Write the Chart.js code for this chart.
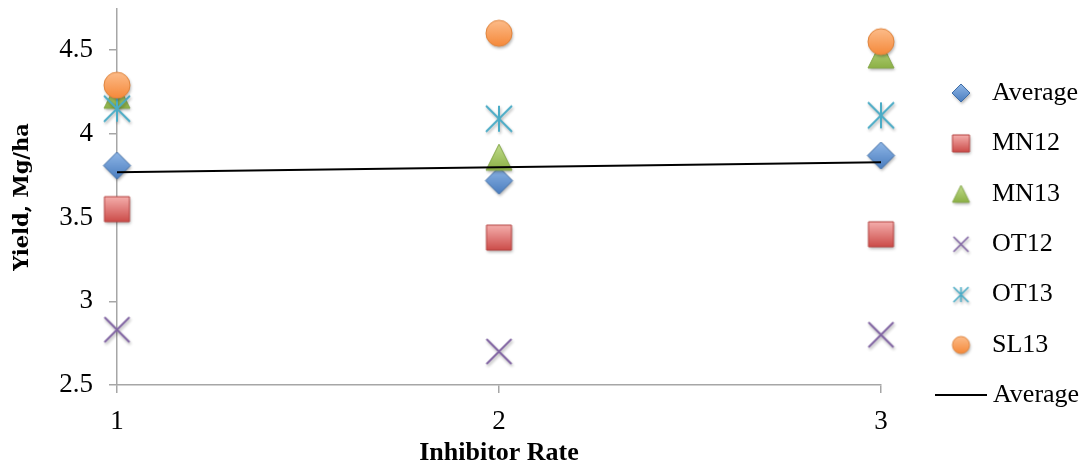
<!DOCTYPE html>
<html>
<head>
<meta charset="utf-8">
<script src="https://cdn.jsdelivr.net/npm/chart.js@4.4.1/dist/chart.umd.min.js"></script>
<style>
  body { margin: 0; background: #fff; }
  #wrap { width: 1083px; height: 472px; }
</style>
</head>
<body>
<div id="wrap"><canvas id="yieldChart" width="1083" height="472"></canvas></div>
<script>
// ---------------- data ----------------
const rates = [1, 2, 3];
const average = [3.81, 3.72, 3.87];
const mn12 = [3.55, 3.38, 3.40];
const mn13 = [4.23, 3.86, 4.47];
const ot12 = [2.83, 2.70, 2.80];
const ot13 = [4.15, 4.09, 4.11];
const sl13 = [4.29, 4.60, 4.55];
const trendRates = [1, 3];
const trendValues = [3.77, 3.83];
const seriesNames = ["Average", "MN12", "MN13", "OT12", "OT13", "SL13"];
const trendName = "Average";
const yTicks = [2.5, 3, 3.5, 4, 4.5];
const xTicks = [1, 2, 3];

// Excel-ish marker colours
const styles = {
    blue:   { top: "#8fb6e6", bottom: "#4a7dbf", edge: "#3f6ea8" },
    red:    { top: "#f4aeac", bottom: "#cc4c49", edge: "#b5413e" },
    green:  { top: "#c0dc8c", bottom: "#8cb045", edge: "#86a84a" },
    purple: { line: "#8064a2" },
    teal:   { line: "#4bacc6" },
    orange: { top: "#fcbc8a", bottom: "#f5893a", edge: "#e0843c" }
};

// draws one marker on a little canvas, used as pointStyle
function marker(kind, size, col) {
    var pad = 5;
    var n = Math.ceil(size) + pad * 2;
    var cv = document.createElement("canvas");
    cv.width = n;
    cv.height = n;
    var g = cv.getContext("2d");
    var c = n / 2, r = size / 2;
    g.shadowColor = "rgba(0,0,0,0.3)";
    g.shadowBlur = 3;
    g.shadowOffsetX = 1;
    g.shadowOffsetY = 2;
    g.beginPath();
    if (kind === "x" || kind === "star") {
        g.moveTo(c - r, c - r);
        g.lineTo(c + r, c + r);
        g.moveTo(c + r, c - r);
        g.lineTo(c - r, c + r);
        if (kind === "star") {
            g.moveTo(c, c - r);
            g.lineTo(c, c + r);
        }
        g.strokeStyle = col.line;
        g.lineWidth = size > 20 ? 2 : 1.6;
        g.stroke();
        return cv;
    }
    if (kind === "diamond") {
        g.moveTo(c, c - r);
        g.lineTo(c + r, c);
        g.lineTo(c, c + r);
        g.lineTo(c - r, c);
        g.closePath();
    } else if (kind === "square") {
        g.rect(c - r, c - r, size, size);
    } else if (kind === "triangle") {
        g.moveTo(c, c - r);
        g.lineTo(c + r, c + r);
        g.lineTo(c - r, c + r);
        g.closePath();
    } else {
        g.arc(c, c, r, 0, Math.PI * 2);
    }
    var grad = g.createLinearGradient(0, c - r, 0, c + r);
    grad.addColorStop(0, col.top);
    grad.addColorStop(1, col.bottom);
    g.fillStyle = grad;
    g.fill();
    g.shadowColor = "transparent";
    g.strokeStyle = col.edge;
    g.lineWidth = 1;
    g.stroke();
    return cv;
}

const kinds = ["diamond", "square", "triangle", "x", "star", "circle"];
const colours = [styles.blue, styles.red, styles.green, styles.purple, styles.teal, styles.orange];
const plotSizes = [27, 25, 26, 25, 26, 26];
const legendSizes = [18, 17, 17, 15, 15, 17];
const seriesValues = [average, mn12, mn13, ot12, ot13, sl13];

const plotMarks = kinds.map((k, i) => marker(k, plotSizes[i], colours[i]));
const legendMarks = kinds.map((k, i) => marker(k, legendSizes[i], colours[i]));

function toPoints(xs, ys) {
    return xs.map((x, i) => ({ x: x, y: ys[i] }));
}

//legend drawn by hand so the trend line entry can be long
const sideLegend = {
    id: "sideLegend",
    afterDraw(chart) {
        const ctx = chart.ctx;
        ctx.save();
        ctx.font = '26px "Liberation Serif"';
        ctx.textBaseline = "middle";
        ctx.textAlign = "left";
        ctx.fillStyle = "#000";
        seriesNames.forEach((name, i) => {
            const y = 93 + i * 50.4;
            const img = legendMarks[i];
            ctx.drawImage(img, 961 - img.width / 2, y - img.height / 2);
            ctx.fillText(name, 992, y);
        });
        const ly = 395;
        ctx.beginPath();
        ctx.moveTo(935, ly);
        ctx.lineTo(987, ly);
        ctx.strokeStyle = "#000";
        ctx.lineWidth = 2;
        ctx.stroke();
        ctx.fillText(trendName, 993, ly);
        ctx.restore();
    }
};

const datasets = seriesNames.map((name, i) => ({
    label: name,
    data: toPoints(rates, seriesValues[i]),
    pointStyle: plotMarks[i],
    pointRadius: 13,
    showLine: false,
    clip: false,
    order: 6 - i
}));
datasets.push({
    label: trendName,
    data: toPoints(trendRates, trendValues),
    showLine: true,
    borderColor: "#000",
    borderWidth: 2,
    pointRadius: 0,
    clip: false,
    order: 0
});

const axisGrey = "#a6a6a6";
const tickFont = { family: "Liberation Serif", size: 27 };

const CHART = document.getElementById("yieldChart");
let yieldChart = new Chart(CHART, {
    type: "scatter",
    data: { datasets: datasets },
    options: {
        responsive: false,
        animation: false,
        layout: { autoPadding: false, padding: { top: 9, right: 202, left: 0, bottom: 0 } },
        plugins: {
            legend: { display: false },
            tooltip: { enabled: false }
        },
        scales: {
            x: {
                type: "linear",
                min: 1,
                max: 3,
                afterBuildTicks: s => { s.ticks = xTicks.map(v => ({ value: v })); },
                afterFit: s => { s.height = 87; s.paddingLeft = 0; s.paddingRight = 0; },
                ticks: { color: "#000", font: tickFont, padding: 13, callback: v => String(v) },
                grid: { drawOnChartArea: false, drawTicks: true, tickLength: 8, color: axisGrey, lineWidth: 1.5 },
                border: { color: axisGrey, width: 1.5 },
                title: {
                    display: true,
                    text: "Inhibitor Rate",
                    color: "#000",
                    font: { family: "Liberation Serif", size: 26, weight: "bold" },
                    padding: { top: 0, bottom: 3 }
                }
            },
            y: {
                type: "linear",
                min: 2.5,
                max: 4.745,
                afterBuildTicks: s => { s.ticks = yTicks.map(v => ({ value: v })); },
                afterFit: s => { s.width = 117; s.paddingTop = 0; s.paddingBottom = 0; },
                ticks: { color: "#000", font: tickFont, padding: 16, callback: v => String(v) },
                grid: { drawOnChartArea: false, drawTicks: true, tickLength: 8, color: axisGrey, lineWidth: 1.5 },
                border: { color: axisGrey, width: 1.5 },
                title: {
                    display: true,
                    text: "Yield, Mg/ha",
                    color: "#000",
                    font: { family: "DejaVu Serif", size: 21, weight: "bold" },
                    padding: { top: 10, bottom: 0 }
                }
            }
        }
    },
    plugins: [sideLegend]
});
</script>
</body>
</html>
